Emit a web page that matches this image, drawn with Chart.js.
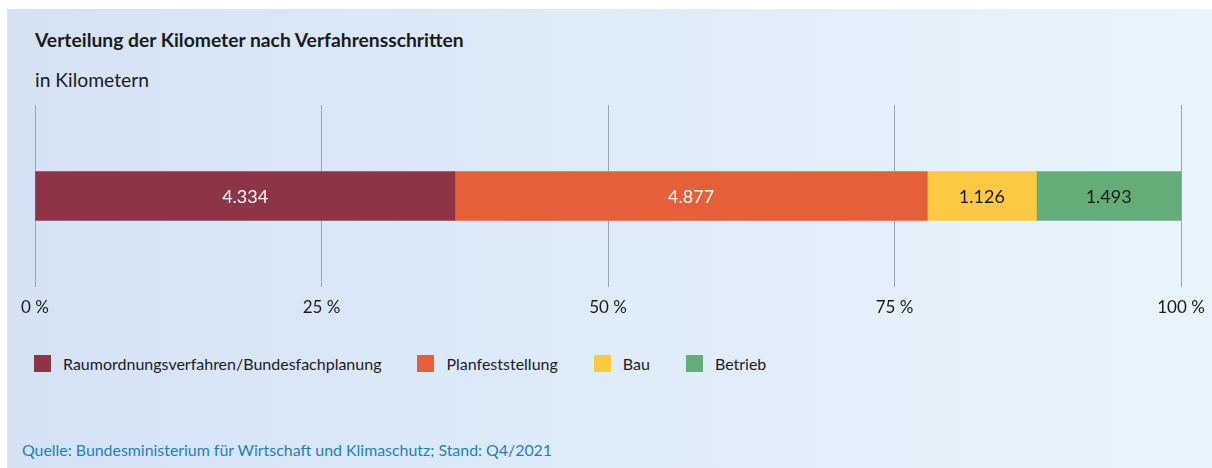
<!DOCTYPE html>
<html>
<head>
<meta charset="utf-8">
<script src="https://cdn.jsdelivr.net/npm/chart.js@4/dist/chart.umd.min.js"></script>
<style>
  html, body { margin: 0; padding: 0; background: #fff; }
  body { width: 1212px; height: 468px; position: relative; overflow: hidden; font-family: Lato, 'Noto Sans', sans-serif; }
  .panel { position: absolute; left: 7px; top: 9px; right: 0; bottom: 0; background: linear-gradient(to right, #d4e2f4, #e9f5fd); }
  .title { position: absolute; left: 35px; top: 28px; font-size: 19.3px; font-weight: bold; color: #1b1b1b; line-height: 23px; }
  .subtitle { position: absolute; left: 35px; top: 68px; font-size: 19.3px; color: #1b1b1b; line-height: 23px; }
  .chart-box { position: absolute; left: 0; top: 0; width: 1212px; height: 330px; }
  .legend { position: absolute; left: 34px; top: 354px; display: flex; font-size: 16px; color: #1b1b2a; line-height: 19px; }
  .legend span.item { display: flex; align-items: center; margin-right: 36px; }
  .legend span.box { width: 17px; height: 17px; margin-right: 12px; display: inline-block; }
  .source { position: absolute; left: 22px; top: 440px; font-size: 15.9px; color: #1d7fc3; line-height: 19px; }
</style>
</head>
<body>
<div class="panel"></div>
<div class="title">Verteilung der Kilometer nach Verfahrensschritten</div>
<div class="subtitle">in Kilometern</div>
<div class="chart-box"><canvas id="chart"></canvas></div>
<div class="legend" id="legend"></div>
<div class="source">Quelle: Bundesministerium für Wirtschaft und Klimaschutz; Stand: Q4/2021</div>
<script>
// Categories (stages) and kilometres per stage
let stages = [
  'Raumordnungsverfahren/Bundesfachplanung',
  'Planfeststellung',
  'Bau',
  'Betrieb',
]
let kilometers = [4334, 4877, 1126, 1493]

// Tick labels along the share axis
let tickLabels = ['0 %', '25 %', '50 %', '75 %', '100 %']

// Colors per stage and label text color on each bar
let palette = ['#8e3447', '#e55f38', '#fdc942', '#64ad78']
let labelColors = ['#ffffff', '#ffffff', '#1b1b1b', '#1b1b1b']

let total = kilometers.reduce((acc, cur) => acc + cur)

// German thousands separator
let formatKm = (v) => String(v).replace(/\B(?=(\d{3})+(?!\d))/g, '.')

// Draw the value in the middle of each bar segment
let barValues = {
  id: 'barValues',
  afterDatasetsDraw(chart) {
    let ctx = chart.ctx
    ctx.save()
    ctx.font = '18px Lato, "Noto Sans", sans-serif'
    ctx.textAlign = 'center'
    ctx.textBaseline = 'middle'
    chart.data.datasets.forEach((ds, i) => {
      chart.getDatasetMeta(i).data.forEach((bar, j) => {
        ctx.fillStyle = labelColors[i]
        ctx.fillText(formatKm(ds.data[j]), (bar.x + bar.base) / 2, bar.y + 1)
      })
    })
    ctx.restore()
  }
}

new Chart(document.getElementById('chart'), {
  type: 'bar',
  data: {
    labels: [''],
    datasets: stages.map((s, i) => ({
      label: s,
      data: [kilometers[i]],
      backgroundColor: palette[i],
      borderWidth: 0,
      barThickness: 49,
    }))
  },
  options: {
    indexAxis: 'y',
    responsive: true,
    maintainAspectRatio: false,
    animation: false,
    layout: { padding: { left: 35, right: 31, top: 105, bottom: 3 } },
    plugins: {
      legend: { display: false },
      tooltip: { enabled: false },
    },
    scales: {
      y: { stacked: true, display: false },
      x: {
        stacked: true,
        min: 0,
        max: total,
        afterBuildTicks: (axis) => {
          axis.ticks = tickLabels.map((t, i) => ({ value: total * i / 4 }))
        },
        afterFit: (axis) => {
          axis.height = 40
          // labels may hang past the plot edge, the layout padding covers them
          axis.paddingLeft = 0
          axis.paddingRight = 0
        },
        border: { display: false },
        grid: { color: '#98a4ae', lineWidth: 1, drawTicks: false },
        ticks: {
          padding: 10,
          color: '#1b1b1b',
          font: { family: 'Lato, "Noto Sans", sans-serif', size: 17 },
          maxRotation: 0,
          callback: (v, i) => tickLabels[i],
        }
      }
    }
  },
  plugins: [barValues]
})

// HTML legend built from the same arrays
let legend = document.getElementById('legend')
stages.forEach((s, i) => {
  let item = document.createElement('span')
  item.className = 'item'
  item.innerHTML = '<span class="box" style="background:' + palette[i] + '"></span>' + s
  legend.appendChild(item)
})
</script>
</body>
</html>
